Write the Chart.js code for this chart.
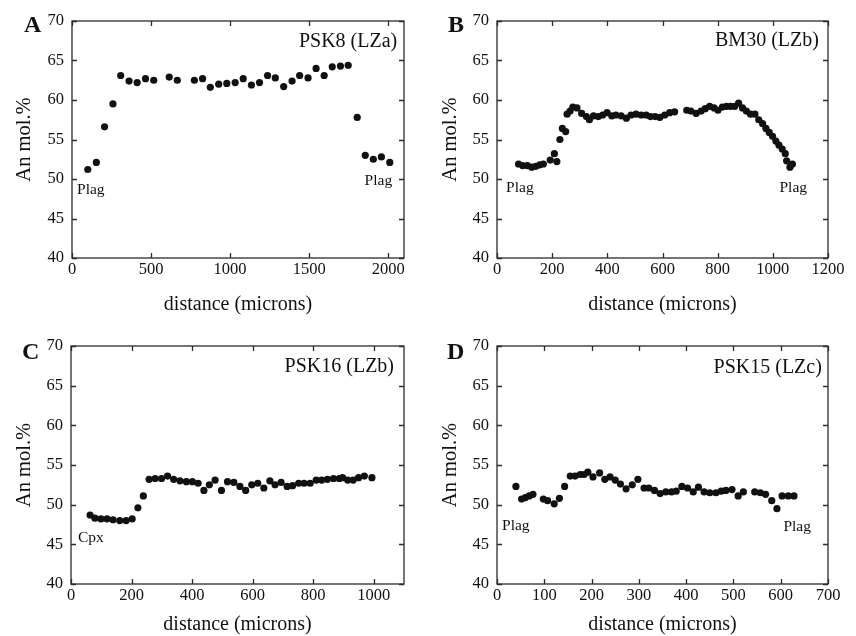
<!DOCTYPE html>
<html>
<head>
<meta charset="utf-8">
<script src="https://cdn.jsdelivr.net/npm/chart.js@4.4.0/dist/chart.umd.min.js"></script>
<style>
  body { margin: 0; background: #fff; }
  #wrap { position: relative; width: 856px; height: 636px; overflow: hidden; background: #fff; }
  #wrap canvas { position: absolute; }
</style>
</head>
<body>
<div id="wrap">
  <canvas id="chartA" width="428" height="318" style="left:0;top:0"></canvas>
  <canvas id="chartB" width="428" height="318" style="left:428px;top:0"></canvas>
  <canvas id="chartC" width="428" height="318" style="left:0;top:318px"></canvas>
  <canvas id="chartD" width="428" height="318" style="left:428px;top:318px"></canvas>
</div>
<script>
// shared y axis
const yTickValues = [40, 45, 50, 55, 60, 65, 70];

// A - PSK8 (LZa)
const aTicks = [0, 500, 1000, 1500, 2000];
const aDist = [100, 154, 206, 259, 308, 361, 412, 465, 517, 615, 666, 774, 826, 875, 928, 979,
  1032, 1083, 1135, 1186, 1237, 1286, 1339, 1392, 1440, 1493, 1544, 1595, 1646, 1698, 1747,
  1804, 1855, 1906, 1957, 2010];
const aAn = [51.2, 52.1, 56.6, 59.5, 63.1, 62.4, 62.2, 62.7, 62.5, 62.9, 62.5, 62.5, 62.7, 61.6, 62.0, 62.1,
  62.2, 62.7, 61.9, 62.2, 63.1, 62.8, 61.7, 62.4, 63.1, 62.8, 64.0, 63.1, 64.2, 64.3, 64.4,
  57.8, 53.0, 52.5, 52.8, 52.1];

// B - BM30 (LZb)
const bTicks = [0, 200, 400, 600, 800, 1000, 1200];
const bDist = [78, 93, 110, 126, 141, 155, 168, 193, 208, 217, 228, 237, 249, 254, 265, 275, 290,
  307, 324, 335, 350, 367, 383, 399, 416, 431, 450, 469, 486, 504, 523, 541, 556, 573, 590,
  608, 626, 644, 688, 703, 722, 740, 755, 771, 787, 801, 817, 832, 847, 862, 876, 890, 904,
  919, 935, 949, 963, 975, 987, 999, 1011, 1022, 1034, 1045, 1050, 1062, 1071];
const bAn = [51.9, 51.7, 51.7, 51.5, 51.6, 51.8, 51.9, 52.4, 53.2, 52.2, 55.0, 56.4, 56.0, 58.2, 58.6, 59.1, 59.0,
  58.3, 57.9, 57.5, 58.0, 57.9, 58.1, 58.4, 58.0, 58.1, 58.0, 57.7, 58.1, 58.2, 58.1, 58.1, 57.9, 57.9, 57.8,
  58.1, 58.4, 58.5, 58.7, 58.6, 58.3, 58.6, 58.9, 59.2, 59.0, 58.7, 59.1, 59.2, 59.2, 59.2, 59.6, 59.0, 58.6,
  58.2, 58.2, 57.5, 57.0, 56.4, 55.9, 55.4, 54.8, 54.3, 53.8, 53.2, 52.3, 51.5, 51.9];

// C - PSK16 (LZb)
const cTicks = [0, 200, 400, 600, 800, 1000];
const cDist = [63, 79, 99, 119, 139, 161, 182, 202, 221, 239, 258, 278, 299, 319, 339, 360, 381, 401,
  420, 439, 457, 476, 497, 517, 538, 558, 577, 597, 617, 637, 657, 674, 694, 714, 732, 752, 770,
  790, 810, 828, 847, 867, 886, 897, 914, 932, 950, 969, 994];
const cAn = [48.7, 48.3, 48.2, 48.2, 48.1, 48.0, 48.0, 48.2, 49.6, 51.1, 53.2, 53.3, 53.3, 53.6, 53.2, 53.0, 52.9, 52.9,
  52.7, 51.8, 52.5, 53.1, 51.8, 52.9, 52.8, 52.3, 51.8, 52.5, 52.7, 52.1, 53.0, 52.5, 52.8, 52.3, 52.4, 52.7, 52.7,
  52.7, 53.1, 53.1, 53.2, 53.3, 53.3, 53.4, 53.1, 53.1, 53.4, 53.6, 53.4];

// D - PSK15 (LZc)
const dTicks = [0, 100, 200, 300, 400, 500, 600, 700];
const dDist = [40, 52, 60, 68, 76, 98, 107, 121, 132, 143, 155, 165, 176, 184, 192, 203, 217, 228, 239,
  250, 261, 273, 286, 298, 311, 321, 333, 345, 357, 369, 379, 391, 403, 415, 426, 438, 450, 463,
  474, 484, 497, 510, 521, 545, 557, 568, 581, 592, 603, 616, 628];
const dAn = [52.3, 50.7, 50.9, 51.1, 51.3, 50.7, 50.5, 50.1, 50.8, 52.3, 53.6, 53.6, 53.8, 53.8, 54.1, 53.5, 54.0, 53.2, 53.5,
  53.1, 52.6, 52.0, 52.5, 53.2, 52.1, 52.1, 51.8, 51.4, 51.6, 51.6, 51.7, 52.3, 52.1, 51.6, 52.2, 51.6, 51.5, 51.5,
  51.7, 51.8, 51.9, 51.1, 51.6, 51.6, 51.5, 51.3, 50.5, 49.5, 51.1, 51.1, 51.1];

const SERIF = '"Liberation Serif", "Times New Roman", serif';
Chart.defaults.color = '#111';
Chart.defaults.font.family = SERIF;

// frame, inward ticks, panel letter and notes
const framePlugin = {
  id: 'frame',
  afterDraw(chart, args, opts) {
    const { ctx, chartArea: a, scales: { x, y } } = chart;
    ctx.save();
    ctx.strokeStyle = '#2b2b2b';
    ctx.lineWidth = 1.3;
    ctx.strokeRect(a.left, a.top, a.right - a.left, a.bottom - a.top);
    ctx.beginPath();
    x.ticks.forEach(t => {
      const px = Math.round(x.getPixelForValue(t.value)) + 0.5;
      ctx.moveTo(px, a.bottom); ctx.lineTo(px, a.bottom - 5);
      ctx.moveTo(px, a.top); ctx.lineTo(px, a.top + 5);
    });
    y.ticks.forEach(t => {
      const py = Math.round(y.getPixelForValue(t.value)) + 0.5;
      ctx.moveTo(a.left, py); ctx.lineTo(a.left + 5, py);
      ctx.moveTo(a.right, py); ctx.lineTo(a.right - 5, py);
    });
    ctx.stroke();

    ctx.fillStyle = '#111';
    ctx.textBaseline = 'middle';
    (opts.notes || []).forEach(n => {
      ctx.font = n.size + 'px ' + SERIF;
      ctx.textAlign = n.align;
      ctx.fillText(n.text, x.getPixelForValue(n.x), y.getPixelForValue(n.y));
    });

    ctx.font = 'bold 24px ' + SERIF;
    ctx.textAlign = 'left';
    ctx.textBaseline = 'alphabetic';
    ctx.fillText(opts.letter, opts.letterX, opts.letterY);
    ctx.restore();
  }
};

function makePanel(id, xs, ys, xTicks, xMax, box, extra) {
  const W = 428, H = 318;
  const pts = xs.map((v, i) => ({ x: v, y: ys[i] }));
  return new Chart(document.getElementById(id), {
    type: 'scatter',
    data: {
      datasets: [{
        data: pts,
        backgroundColor: '#111',
        borderWidth: 0,
        pointRadius: 3.6,
        pointHoverRadius: 3.6
      }]
    },
    options: {
      responsive: false,
      animation: false,
      layout: { padding: { left: 0, top: box.top, right: W - box.right, bottom: 0 } },
      plugins: {
        legend: { display: false },
        tooltip: { enabled: false },
        frame: extra
      },
      scales: {
        x: {
          type: 'linear',
          min: 0,
          max: xMax,
          afterBuildTicks: s => { s.ticks = xTicks.map(v => ({ value: v })); },
          afterFit: s => { s.height = H - box.bottom; },
          grid: { display: false, drawTicks: false },
          border: { display: false },
          ticks: {
            autoSkip: false, maxRotation: 0, padding: 3,
            font: { size: 16.5, lineHeight: 1 },
            callback: v => String(v)
          },
          title: {
            display: true,
            text: 'distance (microns)',
            font: { size: 20, lineHeight: 1 },
            padding: { top: 0, bottom: box.xTitlePad }
          }
        },
        y: {
          type: 'linear',
          min: 40,
          max: 70,
          afterBuildTicks: s => { s.ticks = yTickValues.map(v => ({ value: v })); },
          afterFit: s => { s.width = box.left; },
          grid: { display: false, drawTicks: false },
          border: { display: false },
          ticks: { padding: 8, font: { size: 16.5, lineHeight: 1 }, callback: v => String(v) },
          title: {
            display: true,
            text: 'An mol.%',
            font: { size: 20.5, lineHeight: 1 },
            padding: { top: box.yTitlePad, bottom: 0 }
          }
        }
      }
    },
    plugins: [framePlugin]
  });
}

makePanel('chartA', aDist, aAn, aTicks, 2100,
  { left: 72, right: 404, top: 21, bottom: 258, xTitlePad: 3, yTitlePad: 14 },
  { letter: 'A', letterX: 24, letterY: 32, notes: [
    { text: 'PSK8 (LZa)', x: 2057, y: 67.4, align: 'right', size: 20 },
    { text: 'Plag', x: 32, y: 48.6, align: 'left', size: 15.5 },
    { text: 'Plag', x: 2025, y: 49.7, align: 'right', size: 15.5 }
  ] });

makePanel('chartB', bDist, bAn, bTicks, 1200,
  { left: 69, right: 400, top: 21, bottom: 258, xTitlePad: 3, yTitlePad: 12 },
  { letter: 'B', letterX: 20, letterY: 32, notes: [
    { text: 'BM30 (LZb)', x: 1167, y: 67.5, align: 'right', size: 20 },
    { text: 'Plag', x: 33, y: 48.9, align: 'left', size: 15.5 },
    { text: 'Plag', x: 1124, y: 48.9, align: 'right', size: 15.5 }
  ] });

makePanel('chartC', cDist, cAn, cTicks, 1100,
  { left: 71, right: 404, top: 28, bottom: 266, xTitlePad: 1, yTitlePad: 14 },
  { letter: 'C', letterX: 22, letterY: 41, notes: [
    { text: 'PSK16 (LZb)', x: 1067, y: 67.4, align: 'right', size: 20 },
    { text: 'Cpx', x: 23, y: 45.8, align: 'left', size: 15.5 }
  ] });

makePanel('chartD', dDist, dAn, dTicks, 700,
  { left: 69, right: 400, top: 28, bottom: 266, xTitlePad: 1, yTitlePad: 12 },
  { letter: 'D', letterX: 19, letterY: 41, notes: [
    { text: 'PSK15 (LZc)', x: 687, y: 67.3, align: 'right', size: 20 },
    { text: 'Plag', x: 10.6, y: 47.3, align: 'left', size: 15.5 },
    { text: 'Plag', x: 664, y: 47.2, align: 'right', size: 15.5 }
  ] });
</script>
</body>
</html>
